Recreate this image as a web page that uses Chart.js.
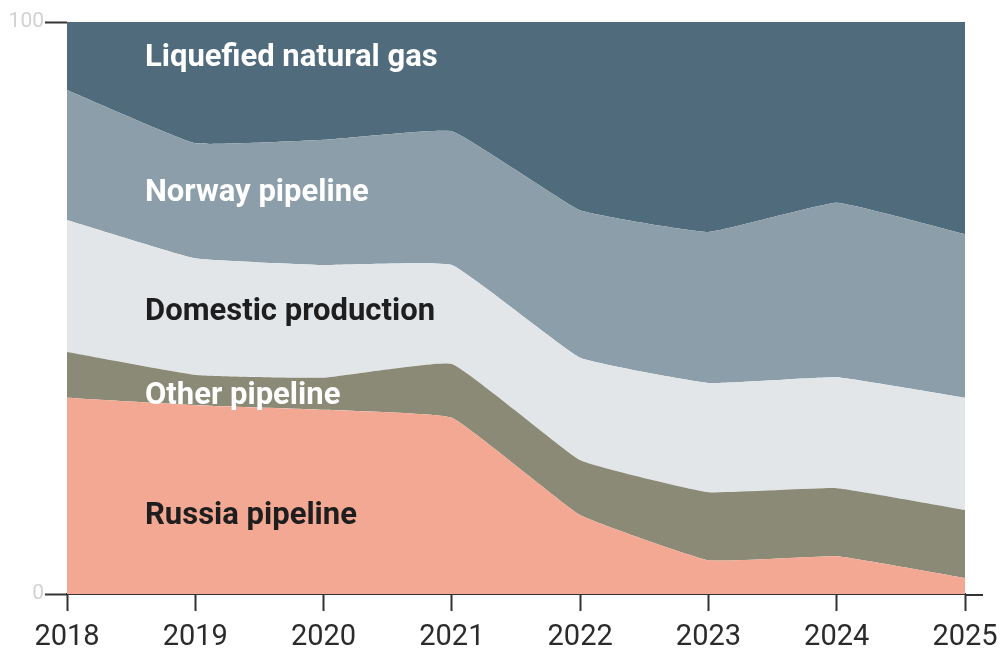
<!DOCTYPE html>
<html>
<head>
<meta charset="utf-8">
<script src="https://cdn.jsdelivr.net/npm/chart.js@4"></script>
<style>
  html, body { margin: 0; padding: 0; background: #fff; }
  #wrap { width: 1001px; height: 664px; position: relative; }
</style>
</head>
<body>
<div id="wrap"><canvas id="gas" width="1001" height="664"></canvas></div>
<script>
const years = ['2018', '2019', '2020', '2021', '2022', '2023', '2024', '2025'];
// shares of supply, % (stacked bottom to top)
const russia   = [34.3, 33.0, 32.2, 30.8, 13.8, 5.9, 6.6, 2.8];
const other    = [8.0, 5.3, 5.6, 9.4, 9.6, 11.9, 11.9, 11.9];
const domestic = [23.1, 20.4, 19.7, 17.3, 17.9, 19.1, 19.4, 19.6];
const norway   = [22.7, 20.1, 21.9, 23.4, 25.8, 26.4, 30.5, 28.6];
const lng      = [11.9, 21.2, 20.6, 19.1, 32.9, 36.7, 31.6, 37.1];
const yTicks   = [0, 100];

// in-chart series labels: [text, colour, y value]
const seriesLabels = [
  ['Liquefied natural gas', '#ffffff', 93.6],
  ['Norway pipeline', '#ffffff', 70.0],
  ['Domestic production', '#1e1e1e', 49.3],
  ['Other pipeline', '#ffffff', 34.6],
  ['Russia pipeline', '#1e1e1e', 13.6]
];

const areaLabels = {
  id: 'areaLabels',
  afterDatasetsDraw(chart) {
    const { ctx, scales } = chart;
    const x0 = scales.x.getPixelForValue(0) + 78;
    ctx.save();
    ctx.font = 'bold 31px Roboto, sans-serif';
    ctx.textBaseline = 'middle';
    ctx.textAlign = 'left';
    seriesLabels.forEach(([txt, col, v]) => {
      ctx.fillStyle = col;
      ctx.fillText(txt, x0, scales.y.getPixelForValue(v));
    });
    ctx.restore();
  },
  afterDraw(chart) {
    // baseline runs a little past the last year
    const { ctx, chartArea } = chart;
    ctx.save();
    ctx.strokeStyle = '#333';
    ctx.lineWidth = 2;
    ctx.beginPath();
    ctx.moveTo(chartArea.right, chartArea.bottom + 1);
    ctx.lineTo(chartArea.right + 18, chartArea.bottom + 1);
    ctx.stroke();
    ctx.restore();
  }
};

function area(label, data, color, fill) {
  return {
    label, data, fill,
    backgroundColor: color,
    borderColor: color,
    borderWidth: 0,
    pointRadius: 0,
    tension: 0.1
  };
}

new Chart(document.getElementById('gas'), {
  type: 'line',
  data: {
    labels: years,
    datasets: [
      area('Russia pipeline', russia, '#f2a892', 'origin'),
      area('Other pipeline', other, '#8a8a76', '-1'),
      area('Domestic production', domestic, '#e2e6e9', '-1'),
      area('Norway pipeline', norway, '#8b9ea9', '-1'),
      area('Liquefied natural gas', lng, '#4f6b7c', '-1')
    ]
  },
  options: {
    responsive: false,
    animation: false,
    maintainAspectRatio: false,
    layout: { padding: { top: 22, right: 36, left: 0, bottom: 0 } },
    plugins: { legend: { display: false }, tooltip: { enabled: false } },
    scales: {
      x: {
        offset: false,
        grid: { drawOnChartArea: false, tickLength: 17, tickColor: '#333', tickWidth: 2 },
        border: { color: '#333', width: 2 },
        ticks: { color: '#2b2b2b', font: { family: 'Roboto', size: 29 }, padding: 9, maxRotation: 0, autoSkip: false },
        afterFit(s) { s.height = 70; s.paddingLeft = 0; s.paddingRight = 0; }
      },
      y: {
        stacked: true,
        min: 0, max: 100,
        afterBuildTicks(s) { s.ticks = yTicks.map(v => ({ value: v })); },
        grid: { drawOnChartArea: false, tickLength: 22, tickColor: '#333', tickWidth: 2 },
        border: { display: false },
        ticks: { color: '#d2d2d2', font: { family: 'Roboto', size: 21 }, padding: 1 },
        afterFit(s) { s.width = 67; }
      }
    }
  },
  plugins: [areaLabels]
});
</script>
</body>
</html>
